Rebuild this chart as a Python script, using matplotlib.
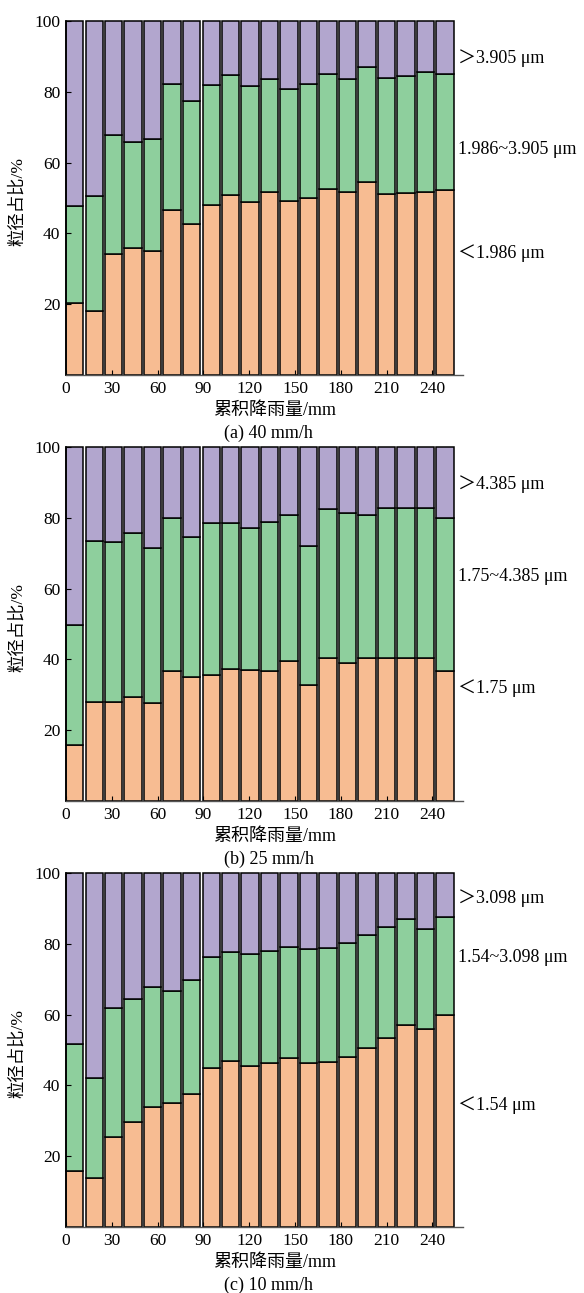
import matplotlib
matplotlib.use("Agg")
import matplotlib.pyplot as plt
import numpy as np

plt.rcParams['font.family'] = ['Liberation Serif', 'Noto Sans CJK SC', 'DejaVu Sans']
plt.rcParams['axes.unicode_minus'] = False

# cumulative rainfall at each sampling (mm), left edge of each bar
rain = [0, 12.8, 25.5, 38.3, 51.1, 63.8, 76.6, 89.4, 102.1, 114.9,
        127.7, 140.4, 153.2, 166.0, 178.8, 191.5, 204.3, 217.1, 229.8, 242.6]

# (a) 40 mm/h, share of each size class (%)
fine_a = [20.2, 18.1, 34.3, 36.0, 34.9, 46.6, 42.7, 48.1, 50.8, 48.8,
          51.7, 49.1, 50.0, 52.6, 51.7, 54.6, 51.1, 51.5, 51.8, 52.2]
mid_a = [27.5, 32.6, 33.6, 29.7, 31.7, 35.7, 34.7, 33.9, 34.0, 32.9,
         32.0, 31.7, 32.1, 32.3, 32.0, 32.5, 32.7, 33.0, 33.7, 32.7]
labels_a = ['＜1.986 μm', '1.986~3.905 μm', '＞3.905 μm']

# (b) 25 mm/h
fine_b = [15.8, 28.0, 28.1, 29.5, 27.7, 36.7, 34.9, 35.6, 37.2, 37.0,
          36.8, 39.5, 32.7, 40.4, 39.0, 40.4, 40.5, 40.5, 40.5, 36.7]
mid_b = [33.8, 45.5, 45.0, 46.1, 43.8, 43.3, 39.7, 43.0, 41.3, 40.2,
         42.1, 41.2, 39.4, 42.1, 42.4, 40.3, 42.3, 42.3, 42.3, 43.3]
labels_b = ['＜1.75 μm', '1.75~4.385 μm', '＞4.385 μm']

# (c) 10 mm/h
fine_c = [15.8, 13.9, 25.5, 29.6, 34.0, 35.0, 37.7, 45.0, 46.8, 45.6,
          46.2, 47.6, 46.4, 46.7, 48.1, 50.7, 53.5, 57.2, 55.8, 59.8]
mid_c = [35.9, 28.2, 36.5, 34.7, 33.9, 31.8, 32.0, 31.3, 30.9, 31.6,
         31.7, 31.5, 32.0, 32.1, 32.1, 31.7, 31.2, 29.8, 28.4, 27.8]
labels_c = ['＜1.54 μm', '1.54~3.098 μm', '＞3.098 μm']

titles = ['(a) 40 mm/h', '(b) 25 mm/h', '(c) 10 mm/h']
# y position (data units) of the class labels on the right
label_y = [[34.5, 63.6, 89.5], [31.9, 63.3, 89.5], [34.5, 76.0, 92.9]]

colors = ['#F7BC92', '#8ECF9D', '#B2A6CE']
W, H = 584, 1293

fig = plt.figure(figsize=(W / 100, H / 100), dpi=100)

panels = [(fine_a, mid_a, labels_a), (fine_b, mid_b, labels_b), (fine_c, mid_c, labels_c)]
tops = [21, 447, 873]

for k, (fine, mid, labels) in enumerate(panels):
    top = tops[k]
    ax = fig.add_axes([66 / W, 1 - (top + 354) / H, 397 / W, 354 / H])
    fine = np.array(fine)
    mid = np.array(mid)
    coarse = 100 - fine - mid
    bottom = np.zeros(len(rain))
    for vals, c in zip([fine, mid, coarse], colors):
        ax.bar(rain, vals, width=11.4, bottom=bottom, align='edge', color=c,
               edgecolor='black', linewidth=1.1, clip_on=False)
        bottom = bottom + vals

    ax.set_xlim(0, 260)
    ax.set_ylim(0, 100)
    ax.set_xticks(np.arange(0, 241, 30))
    ax.set_yticks([20, 40, 60, 80, 100])
    ax.tick_params(direction='in', length=3.5, width=0.8, labelsize=12.5, pad=4)
    ax.spines['top'].set_visible(False)
    ax.spines['right'].set_visible(False)
    ax.spines['left'].set_linewidth(1.2)
    ax.spines['bottom'].set_linewidth(1.0)
    ax.spines['bottom'].set_color('#555555')

    ax.set_ylabel('粒径占比/%', fontsize=12.5, va='center')
    ax.yaxis.set_label_coords(-48.5 / 397, 0.49)
    ax.set_xlabel('累积降雨量/mm', fontsize=13, va='center')
    ax.xaxis.set_label_coords(0.525, -35 / 354)
    ax.text(0.511, -58 / 354, titles[k], transform=ax.transAxes, fontsize=13,
            ha='center', va='center')

    for lab, yy in zip(labels, label_y[k]):
        ax.text(257, yy, lab, fontsize=13, ha='left', va='center', clip_on=False)

fig.savefig('out.png', dpi=100)
